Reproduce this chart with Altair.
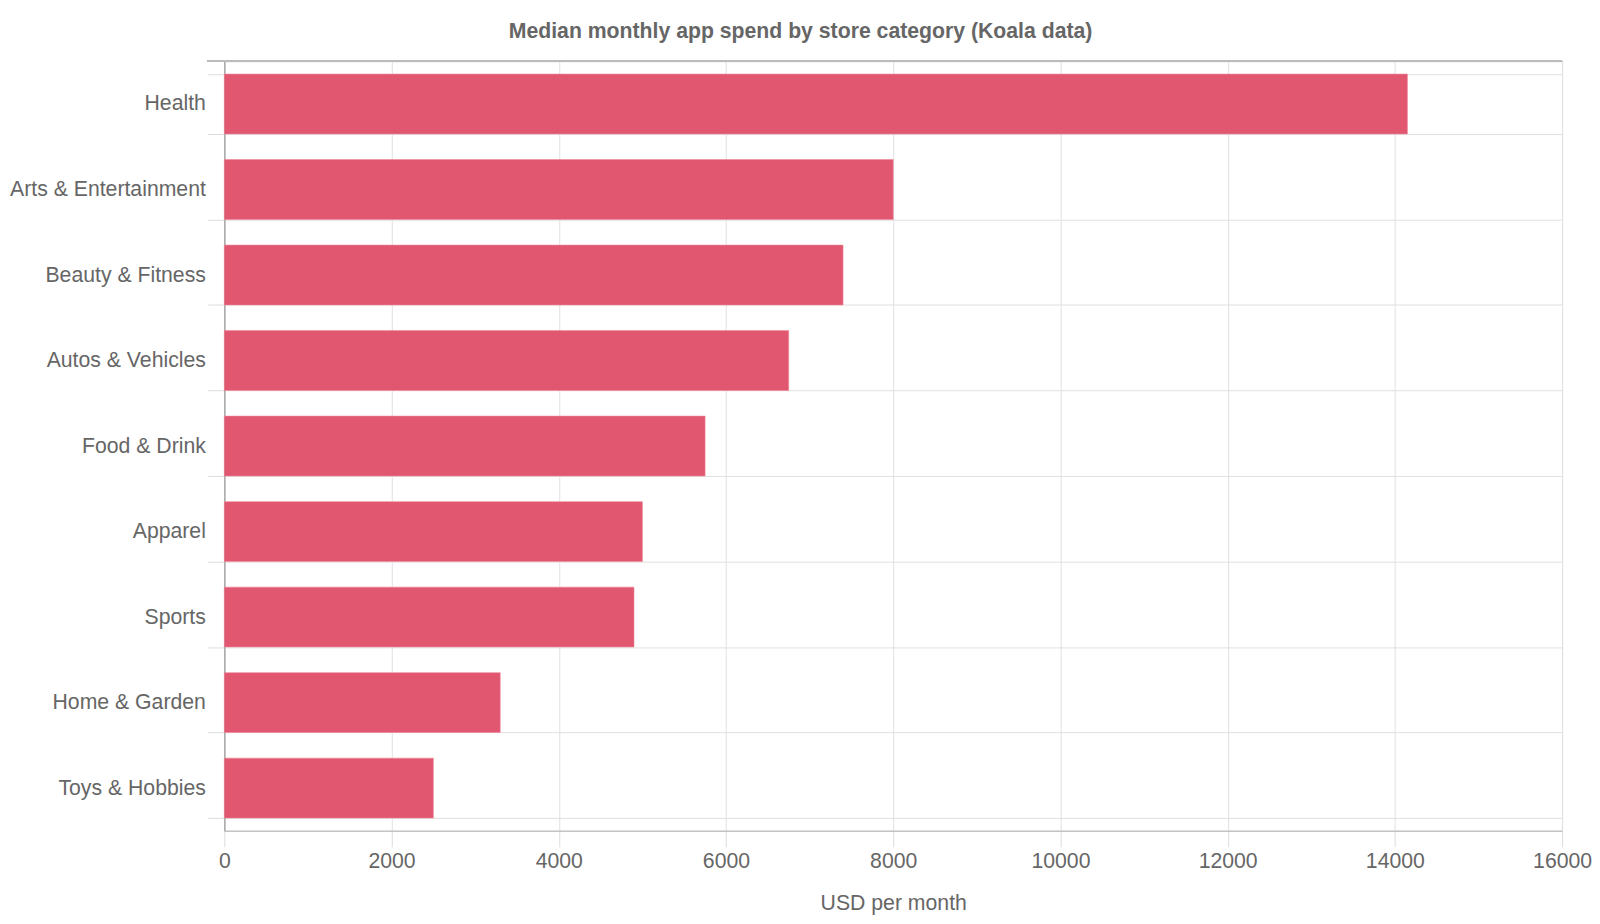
import altair as alt
import pandas as pd

categories = ["Health", "Arts & Entertainment", "Beauty & Fitness", "Autos & Vehicles",
              "Food & Drink", "Apparel", "Sports", "Home & Garden", "Toys & Hobbies"]
spend = [14150, 8000, 7400, 6750, 5750, 5000, 4900, 3300, 2500]
x_ticks = [0, 2000, 4000, 6000, 8000, 10000, 12000, 14000, 16000]

df = pd.DataFrame({"category": categories, "spend": spend})

FONT = "Liberation Sans"
TXT = "#666666"
FS = 21.3
W, H = 1342, 772

bars = alt.Chart(df).mark_bar(color="#E15770", stroke="#EE8499", strokeWidth=0.6).encode(
    x=alt.X("spend:Q",
            scale=alt.Scale(domain=[0, 16000], nice=False),
            axis=alt.Axis(title="USD per month", values=x_ticks,
                          format="d", grid=True, gridColor="#e0e0e0",
                          domain=True, domainColor="#c4c4c4", domainWidth=1.5,
                          ticks=True, tickSize=16, tickColor="#dddddd",
                          labelFontSize=FS, labelColor=TXT, labelFont=FONT, labelPadding=4,
                          labelFlush=False,
                          titleFontSize=FS, titleColor=TXT, titleFont=FONT,
                          titleFontWeight="normal", titlePadding=21)),
    y=alt.Y("category:N", sort=categories,
            scale=alt.Scale(paddingInner=0.3, paddingOuter=0.15),
            axis=alt.Axis(title=None, tickBand="extent", grid=True, gridColor="#e0e0e0",
                          domain=True, domainColor="#aaaaaa", domainWidth=1.5,
                          ticks=True, tickSize=17, tickColor="#dddddd",
                          labelFontSize=FS, labelColor=TXT, labelFont=FONT, labelPadding=2,
                          labelLimit=400)),
)

top_line = alt.Chart(df).mark_rule(color="#bbbbbb", strokeWidth=1.5).encode(
    x=alt.value(-17), x2=alt.value(W), y=alt.value(0)
)

chart = alt.layer(bars, top_line).properties(
    width=W, height=H,
    padding={"left": 1, "top": 11, "right": 0, "bottom": 0},
    title=alt.TitleParams("Median monthly app spend by store category (Koala data)",
                          font=FONT, fontSize=FS, fontWeight="bold", color=TXT,
                          anchor="middle", frame="bounds", offset=8),
).configure_view(stroke="#dddddd")

chart.save("out.html", embed_options={"renderer": "svg", "actions": False})
